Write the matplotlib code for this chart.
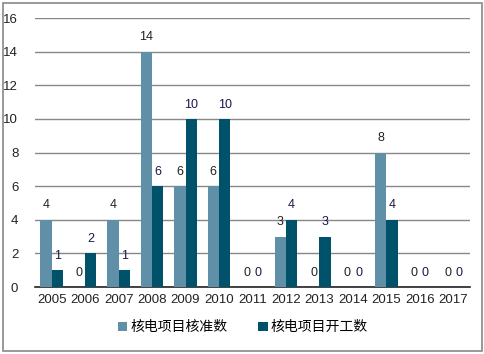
import numpy as np
import matplotlib.pyplot as plt
from matplotlib.patches import Rectangle

plt.rcParams['font.family'] = ['Liberation Sans', 'Noto Sans CJK SC', 'DejaVu Sans']

years = ['2005', '2006', '2007', '2008', '2009', '2010', '2011',
         '2012', '2013', '2014', '2015', '2016', '2017']
approved = [4, 0, 4, 14, 6, 6, 0, 3, 0, 0, 8, 0, 0]
started = [1, 2, 1, 6, 10, 10, 0, 4, 3, 0, 4, 0, 0]

c_app = '#5f90a8'
c_sta = '#00526b'

fig = plt.figure(figsize=(4.85, 3.54), dpi=100)
fig.patches.append(Rectangle((0.006, 0.008), 0.988, 0.984, transform=fig.transFigure,
                             fill=False, edgecolor='#888888', linewidth=1.2))
ax = fig.add_axes([0.072, 0.189, 0.897, 0.760])

x = np.arange(len(years))
w = 0.34
b1 = ax.bar(x - w / 2, approved, w, color=c_app, label='核电项目核准数', zorder=3)
b2 = ax.bar(x + w / 2, started, w, color=c_sta, label='核电项目开工数', zorder=3)

for xi, v in zip(x, approved):
    ax.text(xi - w / 2, v + 0.5, str(v), ha='center', va='bottom', fontsize=9,
            color='#222222')
for xi, v in zip(x, started):
    ax.text(xi + w / 2, v + 0.5, str(v), ha='center', va='bottom', fontsize=9,
            color='#1a1a4a')

ax.set_xlim(-0.5, len(years) - 0.5)
ax.set_ylim(0, 16)
ax.set_yticks(range(0, 17, 2))
ax.set_xticks(x)
ax.set_xticklabels(years)
ax.tick_params(axis='both', length=0, labelsize=9.5, colors='#222222')
ax.tick_params(axis='y', pad=12)
ax.tick_params(axis='x', pad=5)
ax.yaxis.grid(True, color='#888888', linewidth=1, zorder=0)
for s in ['top', 'right', 'left']:
    ax.spines[s].set_visible(False)
ax.spines['bottom'].set_color('#222222')
ax.spines['bottom'].set_linewidth(1.2)

fig.legend(handles=[b1, b2], loc='center', bbox_to_anchor=(0.5, 0.075), ncol=2,
           frameon=False, fontsize=10, handlelength=0.7, handleheight=0.7,
           handletextpad=0.2, columnspacing=2.2)

fig.savefig('out.png', dpi=100)
